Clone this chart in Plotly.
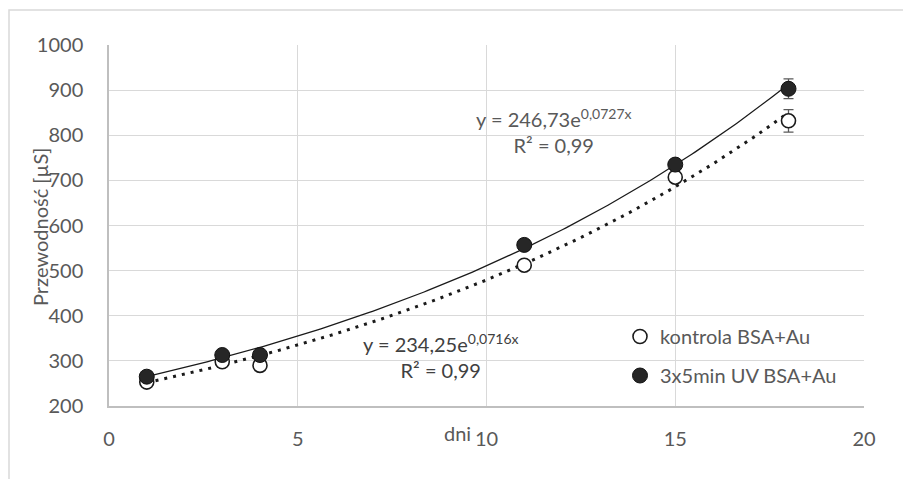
import numpy as np
import plotly.graph_objects as go

days = [1, 3, 4, 11, 15, 18]
kontrola = [253, 298, 290, 512, 707, 832]
kontrola_err = [0, 0, 0, 0, 0, 25]
uv = [265, 313, 313, 557, 735, 903]
uv_err = [0, 0, 0, 0, 0, 22]

fit_uv = (246.73, 0.0727)
fit_k = (234.25, 0.0716)

x_ticks = [0, 5, 10, 15, 20]
y_ticks = [200, 300, 400, 500, 600, 700, 800, 900, 1000]

FONT = "Lato, Open Sans, sans-serif"
GRAY = "#595959"
W, H = 903, 479
L, R, T, B = 109, 39, 45, 73
PW, PH = W - L - R, H - T - B


def px(xp):
    return (xp - L) / PW


def py(yp):
    return (H - B - yp) / PH


xs = np.linspace(min(days), max(days), 200)

fig = go.Figure()
fig.add_trace(go.Scatter(x=xs, y=fit_k[0] * np.exp(fit_k[1] * xs), mode="lines",
                         line=dict(color="#1a1a1a", width=3, dash="3px,6px"),
                         showlegend=False, hoverinfo="skip"))
fig.add_trace(go.Scatter(x=xs, y=fit_uv[0] * np.exp(fit_uv[1] * xs), mode="lines",
                         line=dict(color="#1a1a1a", width=1.3),
                         showlegend=False, hoverinfo="skip"))
fig.add_trace(go.Scatter(x=days, y=kontrola, mode="markers", name="kontrola BSA+Au",
                         legendgroup="a",
                         marker=dict(size=14, color="white", line=dict(color="#1a1a1a", width=1.6)),
                         error_y=dict(type="data", array=kontrola_err, color=GRAY, thickness=1.3, width=5)))
fig.add_trace(go.Scatter(x=days, y=uv, mode="markers", name="3x5min UV BSA+Au",
                         legendgroup="b",
                         marker=dict(size=15, color="#262626", line=dict(color="#111111", width=1)),
                         error_y=dict(type="data", array=uv_err, color=GRAY, thickness=1.3, width=5)))

fig.update_layout(
    width=W, height=H,
    margin=dict(l=L, r=R, t=T, b=B),
    paper_bgcolor="white", plot_bgcolor="white",
    font=dict(family=FONT, size=20, color=GRAY),
    legend=dict(x=px(620), y=py(317), xanchor="left", yanchor="top",
                bgcolor="rgba(255,255,255,0)", font=dict(size=20, color=GRAY),
                tracegroupgap=10, itemwidth=30),
    xaxis=dict(range=[0, 20], tickvals=x_ticks, showgrid=True, gridcolor="#d9d9d9", gridwidth=1.3,
               zeroline=False, showline=True, linecolor="#bfbfbf", linewidth=1.5,
               ticks="", tickfont=dict(size=20, color=GRAY), ticklabelstandoff=14),
    yaxis=dict(range=[200, 1000], tickvals=y_ticks, showgrid=True, gridcolor="#d9d9d9", gridwidth=1.3,
               zeroline=False, showline=True, linecolor="#bfbfbf", linewidth=1.5,
               ticks="", tickfont=dict(size=20, color=GRAY), ticklabelstandoff=20),
    showlegend=True,
)

# outer chart border (partially cropped)
fig.add_shape(type="rect", xref="paper", yref="paper",
              x0=px(9), y0=py(490), x1=px(910), y1=py(10),
              line=dict(color="#d9d9d9", width=1.5), layer="below")

fig.add_annotation(text="y = 246,73e<sup>0,0727x</sup><br>R² = 0,99", x=11.8, y=810, xref="x", yref="y",
                   showarrow=False, font=dict(size=20, color=GRAY), align="center")
fig.add_annotation(text="y = 234,25e<sup>0,0716x</sup><br>R² = 0,99", x=8.8, y=310, xref="x", yref="y",
                   showarrow=False, font=dict(size=20, color="#404040"), align="center")
fig.add_annotation(text="dni", x=px(473), y=py(433), xref="paper", yref="paper",
                   xanchor="right", yanchor="middle", showarrow=False, font=dict(size=20, color=GRAY))
fig.add_annotation(text="Przewodność [µS]", x=px(26), y=py(227), xref="paper", yref="paper",
                   textangle=-90, showarrow=False, font=dict(size=20, color=GRAY))

fig.write_html("out.html")
